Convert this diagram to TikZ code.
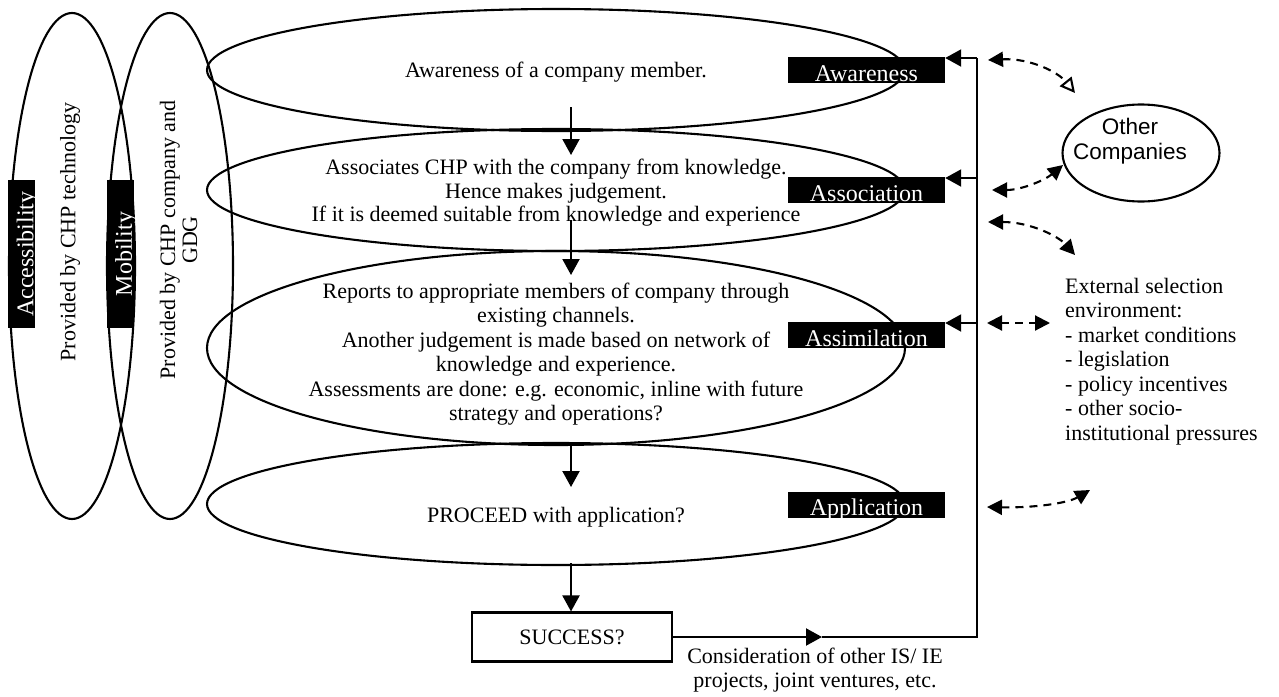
\documentclass[tikz,border=0pt]{standalone}
\usepackage{fontspec}
\setmainfont{Liberation Serif}
\newfontfamily\sansA{Liberation Sans}
\usetikzlibrary{arrows.meta,shapes.geometric}
\begin{document}
\begin{tikzpicture}[x=1pt,y=-1pt,
  every node/.style={inner sep=0pt},
  bigell/.style={ellipse, draw, line width=2.1pt, minimum width=698pt},
  sideell/.style={ellipse, draw, line width=2.1pt, minimum width=126pt, minimum height=506pt},
  txt/.style={font=\fontsize{22pt}{24.5pt}\selectfont, align=center},
  lab/.style={fill=black, text=white, font=\fontsize{24pt}{26pt}\selectfont, minimum height=26pt, text height=22.6pt, text depth=0pt},
  arr/.style={line width=2.1pt, -{Triangle[length=16pt,width=17pt]}},
  dsh/.style={line width=2.1pt, dash pattern=on 8pt off 6pt},
  dtip/.style={Triangle[length=15pt,width=15pt]},
  ]
\useasboundingbox (0,0) rectangle (1279,696);
\fill[white] (0,0) rectangle (1279,696);
% left ellipses
\node[sideell] (l1) at (72,266) {};
\node[sideell] (l2) at (170,266) {};
% main ellipses
\node[bigell, minimum height=122pt] (e1) at (556,70) {};
\node[bigell, minimum height=122pt] (e2) at (556,190) {};
\node[bigell, minimum height=194pt] (e3) at (556,348) {};
\node[bigell, minimum height=122pt] (e4) at (556,504) {};
% texts
\node[txt] (t1) at (556,72) {Awareness of a company member.};
\node[txt, font=\fontsize{22pt}{23.5pt}\selectfont] (t2) at (556,193) {Associates CHP with the company from knowledge.\\Hence makes judgement.\\If it is deemed suitable from knowledge and experience};
\node[txt] (t3) at (556,354) {Reports to appropriate members of company through\\existing channels.\\Another judgement is made based on network of\\knowledge and experience.\\Assessments are done: e.g. economic, inline with future\\strategy and operations?};
\node[txt] (t4) at (556,517) {PROCEED with application?};
\node[txt, draw, line width=2.1pt, minimum width=200pt, minimum height=49pt] (succ) at (572,637) {SUCCESS?};
\node[txt, rotate=90] (p1) at (70,232) {Provided by CHP technology};
\node[txt, rotate=90, font=\fontsize{22pt}{22pt}\selectfont] (p2) at (178.5,240) {Provided by CHP company and\\GDG};
% labels
\node[lab, minimum width=157pt] (law) at (866.5,70) {Awareness};
\node[lab, minimum width=157pt] (las) at (866.5,190) {Association};
\node[lab, minimum width=157pt] (lasm) at (866.5,335) {Assimilation};
\node[lab, minimum width=157pt] (lap) at (866.5,504.5) {Application};
\node[lab, rotate=90, minimum width=148pt, minimum height=27pt, text height=23.6pt] (lacc) at (21.5,254) {Accessibility};
\node[lab, rotate=90, minimum width=148pt, minimum height=27pt, text height=23.6pt] (lmob) at (120,254) {Mobility};
% vertical arrows
\coordinate (a1s) at (571,107); \coordinate (a1e) at (571,155);
\coordinate (a2s) at (571,220); \coordinate (a2e) at (571,275);
\coordinate (a3s) at (571,445); \coordinate (a3e) at (571,487);
\coordinate (a4s) at (571,563);
\draw[arr] (a1s) -- (a1e);
\draw[arr] (a2s) -- (a2e);
\draw[arr] (a3s) -- (a3e);
\draw[arr] (a4s) -- (a4s |- succ.north);
% feedback bus
\coordinate (b1) at (977,58);
\coordinate (b2) at (977,178);
\coordinate (b3) at (977,323);
\coordinate (b4) at (977,637);
\coordinate (m) at (822,637);
\draw[arr] (succ.east) -- (m);
\draw[line width=2.1pt] (m) -- (b4) -- (b1);
\draw[arr] (b1) -- (law.east |- b1);
\draw[arr] (b2) -- (las.east |- b2);
\draw[arr] (b3) -- (lasm.east |- b3);
\node[txt] (cons) at (815,670) {Consideration of other IS/ IE\\projects, joint ventures, etc.};
% right side
\node[ellipse, draw, line width=2.1pt, minimum width=157pt, minimum height=97pt] (oc) at (1141,153) {};
\node[font=\sansA\fontsize{22.5pt}{25pt}\selectfont, align=center] (oct) at (1130,141) {Other\\Companies};
\node[txt, align=left, anchor=north west] (ext) at (1065,278) {External selection\\environment:\\- market conditions\\- legislation\\- policy incentives\\- other socio-\\institutional pressures};
% dashed arrows
\coordinate (d1a) at (988,60); \coordinate (d1b) at (1075,93);
\coordinate (d2a) at (992,190); \coordinate (d2b) at (1063,165);
\coordinate (d3a) at (988,222); \coordinate (d3b) at (1075,255);
\coordinate (d4a) at (987,323); \coordinate (d4b) at (1050,323);
\coordinate (d5a) at (987,507); \coordinate (d5b) at (1090,490);
\draw[dsh, {Triangle[length=15pt,width=15pt]}-{Triangle[open,length=15pt,width=15pt]}] (d1a) .. controls (1030,58) and (1058,72) .. (d1b);
\draw[dsh, {Triangle[length=15pt,width=15pt]}-{Triangle[length=15pt,width=15pt]}] (d2a) .. controls (1022,190) and (1045,180) .. (d2b);
\draw[dsh, {Triangle[length=15pt,width=15pt]}-{Triangle[length=15pt,width=15pt]}] (d3a) .. controls (1030,222) and (1058,236) .. (d3b);
\draw[dsh, {Triangle[length=15pt,width=15pt]}-{Triangle[length=15pt,width=15pt]}] (d4a) -- (d4b);
\draw[dsh, {Triangle[length=15pt,width=15pt]}-{Triangle[length=15pt,width=15pt]}] (d5a) .. controls (1035,508) and (1068,503) .. (d5b);
\end{tikzpicture}
\end{document}
